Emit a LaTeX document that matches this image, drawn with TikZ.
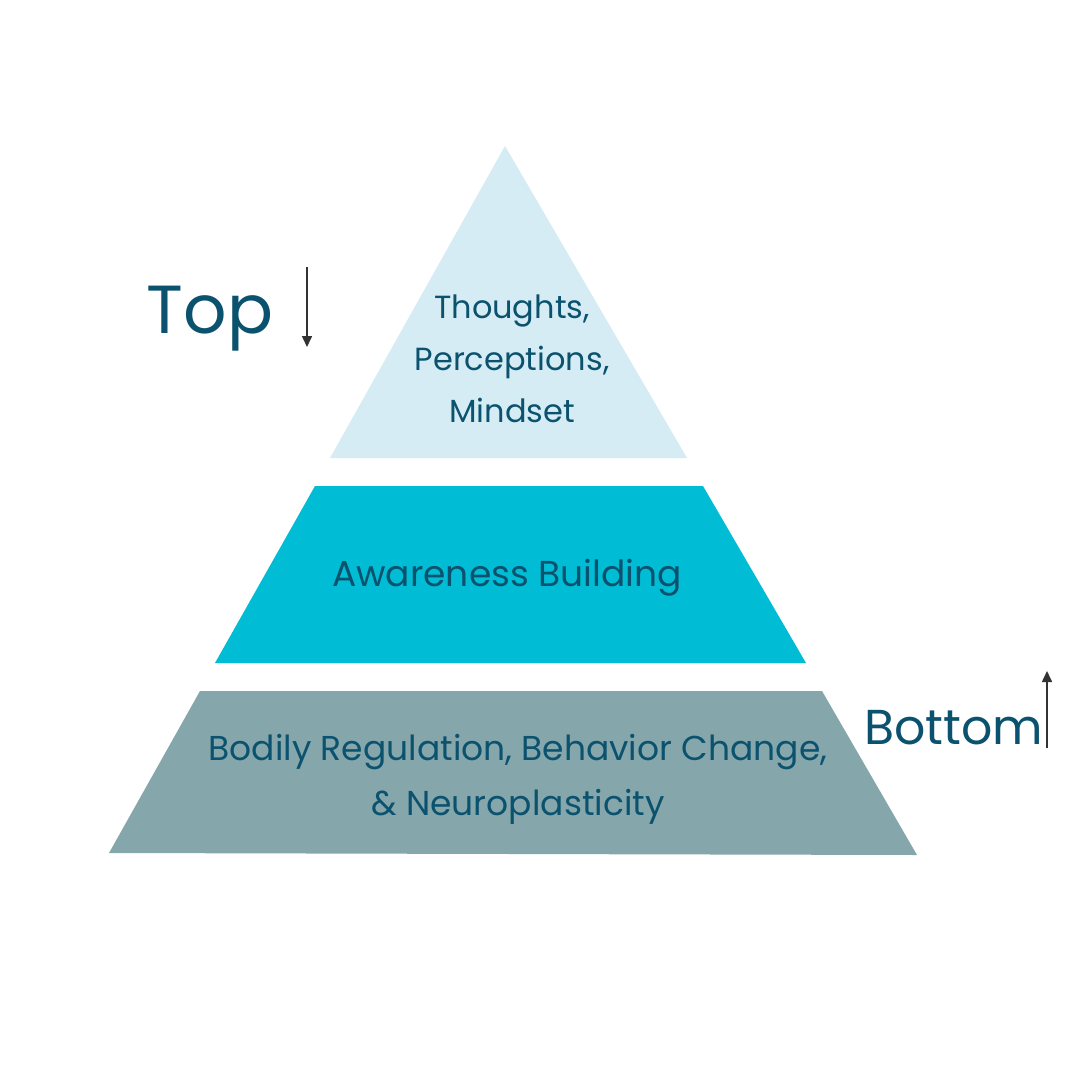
\documentclass[tikz,border=0pt]{standalone}
\usepackage{fontspec}
\setmainfont{Poppins}
\usepackage{tikz}
\usetikzlibrary{arrows.meta}
\definecolor{tealtext}{RGB}{11,82,110}
\definecolor{paleblue}{RGB}{213,236,244}
\definecolor{cyanblue}{RGB}{0,188,212}
\definecolor{slateteal}{RGB}{133,166,171}
\definecolor{arrowgray}{RGB}{51,51,51}

\begin{document}
\begin{tikzpicture}[
    x=1pt, y=-1pt,
    lbl/.style={text=tealtext, align=center, inner sep=0pt},
    big/.style={text=tealtext, inner sep=0pt},
    arrow/.style={-{Triangle[length=11pt, width=10pt]}, line width=1.6pt, draw=arrowgray}
]
\useasboundingbox[fill=white] (0,0) rectangle (1080,1080);

% pyramid layers
\fill[paleblue] (505,146) -- (687,458) -- (330,458) -- cycle;
\fill[cyanblue] (315,486) -- (703,486) -- (806,663) -- (215,663) -- cycle;
\fill[slateteal] (200,691) -- (822,691) -- (917,855) -- (109,853) -- cycle;

\node[lbl, font=\fontsize{32}{52}\selectfont] (apex) at (512,359) {Thoughts,\\Perceptions,\\Mindset};
\node[lbl, font=\fontsize{36}{52}\selectfont] (middle) at (507,578) {Awareness Building};
\node[lbl, font=\fontsize{34.5}{55}\selectfont] (base) at (518,779) {Bodily Regulation, Behavior Change,\\\& Neuroplasticity};

\node[big, font=\fontsize{68}{68}\selectfont] (top) at (210,319) {Top};
\node[big, font=\fontsize{49}{49}\selectfont] (bottom) at (954,728) {Bottom};

\coordinate (downstart) at (307,267);
\coordinate (downend) at (307,347);
\coordinate (upstart) at (1047,748);
\coordinate (upend) at (1047,671);
\draw[arrow] (downstart) -- (downend);
\draw[arrow] (upstart) -- (upend);

\end{tikzpicture}
\end{document}
